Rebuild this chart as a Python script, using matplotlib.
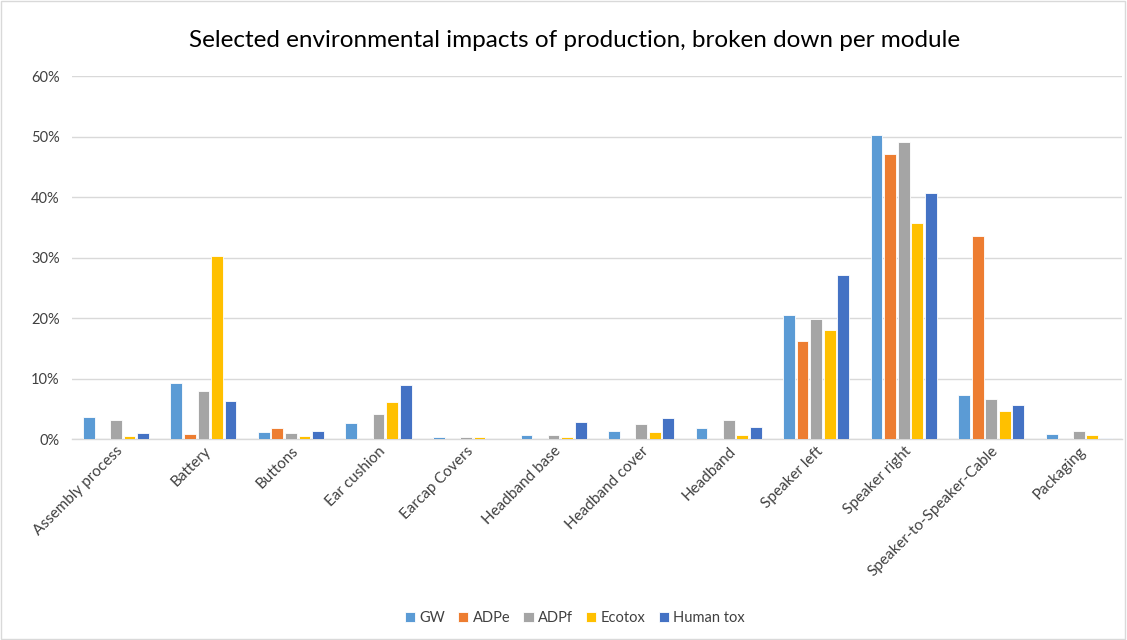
import numpy as np
import matplotlib.pyplot as plt
from matplotlib.patches import Rectangle
from matplotlib.ticker import PercentFormatter

plt.rcParams['font.family'] = ['Lato', 'DejaVu Sans']

modules = ["Assembly process", "Battery", "Buttons", "Ear cushion", "Earcap Covers",
           "Headband base", "Headband cover", "Headband", "Speaker left",
           "Speaker right", "Speaker-to-Speaker-Cable", "Packaging"]

# share of each impact category per module, in percent
gw = [3.7, 9.25, 1.15, 2.6, 0.3, 0.6, 1.3, 1.9, 20.5, 50.2, 7.3, 0.9]
adpe = [0.0, 0.8, 1.9, 0.05, 0.0, 0.05, 0.0, 0.05, 16.2, 47.1, 33.5, 0.0]
adpf = [3.1, 7.9, 1.0, 4.1, 0.3, 0.65, 2.5, 3.1, 19.8, 49.1, 6.7, 1.3]
ecotox = [0.5, 30.2, 0.5, 6.1, 0.4, 0.4, 1.2, 0.7, 18.1, 35.8, 4.6, 0.7]
human_tox = [1.0, 6.3, 1.4, 9.0, 0.05, 2.8, 3.5, 2.0, 27.1, 40.7, 5.6, 0.15]

series = [("GW", gw, "#5B9BD5"), ("ADPe", adpe, "#ED7D31"), ("ADPf", adpf, "#A5A5A5"),
          ("Ecotox", ecotox, "#FFC000"), ("Human tox", human_tox, "#4472C4")]

fig = plt.figure(figsize=(11.27, 6.4), dpi=100)
ax = fig.add_axes([0.064, 0.314, 0.932, 0.567])

x = np.arange(len(modules))
step = 0.155
for k, (name, vals, col) in enumerate(series):
    ax.bar(x + (k - 2) * step, vals, width=0.135, color=col, label=name,
           edgecolor="white", linewidth=0.6, zorder=3)

ax.set_xlim(-0.5, len(modules) - 0.5)
ax.set_ylim(0, 60)
ax.set_yticks(np.arange(0, 61, 10))
ax.yaxis.set_major_formatter(PercentFormatter(decimals=0))
ax.grid(axis="y", color="#D9D9D9", linewidth=1, zorder=0)
for s in ["top", "right", "left"]:
    ax.spines[s].set_visible(False)
ax.spines["bottom"].set_color("#D9D9D9")
ax.spines["bottom"].set_linewidth(1)
ax.tick_params(axis="both", length=0, labelsize=10.5, colors="#404040")
ax.tick_params(axis="y", pad=9)
ax.set_xticks(x)
ax.set_xticklabels(modules, rotation=45, ha="right", rotation_mode="anchor", fontsize=11)

fig.text(0.51, 0.937, "Selected environmental impacts of production, broken down per module",
         ha="center", va="center", fontsize=17.5, color="#000000")

handles, labels = ax.get_legend_handles_labels()
fig.legend(handles, labels, loc="center", bbox_to_anchor=(0.51, 0.034), ncol=5,
           frameon=False, fontsize=10.5, handlelength=0.7, handleheight=0.7,
           handletextpad=0.3, columnspacing=0.9, labelcolor="#404040")

fig.patches.append(Rectangle((0.001, 0.001), 0.997, 0.997, transform=fig.transFigure,
                             fill=False, edgecolor="#D9D9D9", linewidth=1))

fig.savefig("out.png", dpi=100)
